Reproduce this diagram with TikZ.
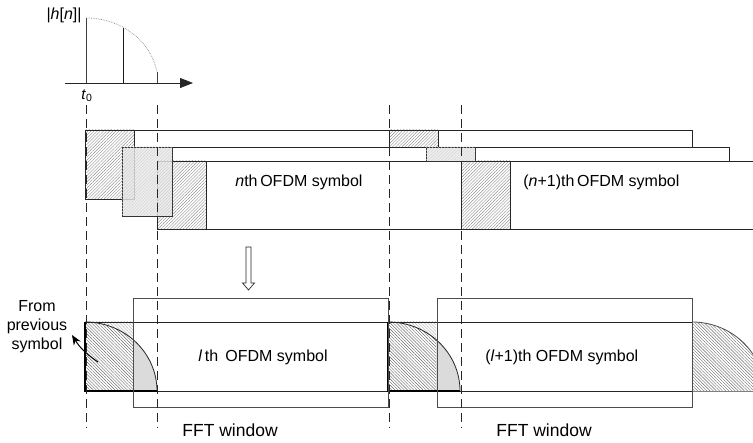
\documentclass[tikz,border=0pt]{standalone}
\usepackage{fontspec}
\setmainfont{Liberation Sans}
\usetikzlibrary{patterns,patterns.meta,arrows.meta}
\begin{document}
\begin{tikzpicture}[x=1pt,y=-1pt,line width=0.8pt,
  ln/.style={draw=black!85},
  win/.style={draw=black!70},
  cpbox/.style={draw=black!85,pattern={Lines[angle=45,distance=2.2pt,line width=0.4pt]},pattern color=black!45},
  cplight/.style={draw=black!80,fill=black!9,fill opacity=0.8,postaction={pattern={Lines[angle=45,distance=2.2pt,line width=0.35pt]},pattern color=black!18}},
  nwdense/.style={pattern={Lines[angle=-45,distance=2.2pt,line width=0.4pt]},pattern color=black!60},
  nwlight/.style={pattern={Lines[angle=-45,distance=2.2pt,line width=0.35pt]},pattern color=black!35},
  guide/.style={draw=black!85,dash pattern=on 9pt off 5pt,line width=1pt},
  lbl/.style={inner sep=0pt,font=\fontsize{16}{19}\selectfont},
  fftlbl/.style={inner sep=0pt,font=\fontsize{17.5}{20}\selectfont}
]
\useasboundingbox (0,0) rectangle (753,443);

% ---------- impulse response ----------
\coordinate (ax0) at (65,83);
\coordinate (ax1) at (193,83);
\draw[black!85,-{Triangle[length=13pt,width=10pt]}] (ax0) -- (ax1);
\coordinate (p1b) at (86,83);  \coordinate (p1t) at (86,18);
\coordinate (p2b) at (123,83); \coordinate (p2t) at (123,28);
\coordinate (p3b) at (157,83); \coordinate (p3t) at (157,72);
\draw[black!75] (p1b) -- (p1t);
\draw[black!90] (p2b) -- (p2t);
\draw[black!75] (p3b) -- (p3t);
\draw[black!45,densely dotted,line width=0.7pt] (p1t) arc[start angle=-90,end angle=-9.6,x radius=72,y radius=65];
\node[lbl,anchor=center] (hn) at (64,15) {|\textit{h}[\textit{n}]|};
\node[lbl,anchor=center,font=\fontsize{15}{18}\selectfont] (t0) at (87,96) {\textit{t}\textsubscript{0}};

% ---------- upper symbol bars ----------
\draw[cpbox] (85,130) rectangle (134,199);
\draw[ln] (134,130) rectangle (389,147);
\draw[ln] (172,147) rectangle (426,161);
\draw[cpbox] (157,161) rectangle (206,229);
\draw[ln] (206,161) rectangle (461,229);
\draw[cplight] (122,147) rectangle (172,216);

\draw[cpbox] (389,130) rectangle (438,147);
\draw[ln] (438,130) rectangle (692,147);
\draw[ln] (475,147) rectangle (729,161);
\draw[cpbox] (461,161) rectangle (510,229);
\draw[ln] (510,161) -- (753,161);
\draw[ln] (510,229) -- (753,229);
\draw[cplight] (426,147) rectangle (475,161);

\node[lbl,anchor=west] (symn) at (235,182) {\textit{n}th\,OFDM symbol};
\node[lbl,anchor=west] (symn1) at (523,182) {(\textit{n}+1)th\,OFDM symbol};

% ---------- down arrow ----------
\draw[black!85,line width=0.7pt,fill=white] (246,247) -- (251,247) -- (251,283) -- (254.5,283) -- (248.5,290) -- (242.5,283) -- (246,283) -- cycle;

% ---------- lower symbols ----------
\foreach \s in {0,303} {
  \begin{scope}[xshift=\s pt]
    \fill[nwlight] (85,322) rectangle (133,391);
    \begin{scope}
      \clip (85,300) rectangle (133,400);
      \fill[white] (85,391) -- (85,322) arc[start angle=-90,end angle=0,x radius=72,y radius=69] -- cycle;
      \fill[nwdense] (85,391) -- (85,322) arc[start angle=-90,end angle=0,x radius=72,y radius=69] -- cycle;
    \end{scope}
    \begin{scope}
      \clip (133,300) rectangle (160,400);
      \fill[black!14] (85,391) -- (85,322) arc[start angle=-90,end angle=0,x radius=72,y radius=69] -- cycle;
    \end{scope}
    \draw[black!85] (85,322) arc[start angle=-90,end angle=0,x radius=72,y radius=69];
    \draw[black!85] (85,322) -- (389,322);
    \draw[black!85] (85,391) -- (389,391);
    \draw[black,line width=1.2pt] (85,322) -- (85,391) -- (157,391);
  \end{scope}
}
% trailing part of next symbol
\begin{scope}
  \clip (692,300) rectangle (753,400);
  \fill[nwdense] (692,391) -- (692,322) arc[start angle=-90,end angle=0,x radius=72,y radius=69] -- cycle;
  \draw[black!70] (692,322) arc[start angle=-90,end angle=0,x radius=72,y radius=69];
  \draw[black!50] (692,391) -- (753,391);
\end{scope}
\draw[black!90] (692,322) -- (692,391);

% FFT windows
\draw[win] (133,298) rectangle (388,407);
\draw[win] (437,298) rectangle (692,407);

\node[lbl,anchor=west] (syml) at (198,357) {\textit{l}\,th\, OFDM symbol};
\node[lbl,anchor=west] (syml1) at (485,357) {(\textit{l}+1)th OFDM symbol};
\node[fftlbl,anchor=west] (fft1) at (182,430) {FFT window};
\node[fftlbl,anchor=west] (fft2) at (496,430) {FFT window};

\node[lbl,align=center,anchor=center] (prev) at (37,327) {From\\previous\\symbol};
\coordinate (arS) at (98,362);
\coordinate (arE) at (72,335);
\draw[black,line width=1pt,-{Stealth[length=10pt,width=8pt]}] (arS) to[bend left=12] (arE);

% ---------- dashed guides ----------
\foreach \gx in {86,157,389,461} {
  \draw[guide] (\gx,105) -- (\gx,428);
}
\end{tikzpicture}
\end{document}
